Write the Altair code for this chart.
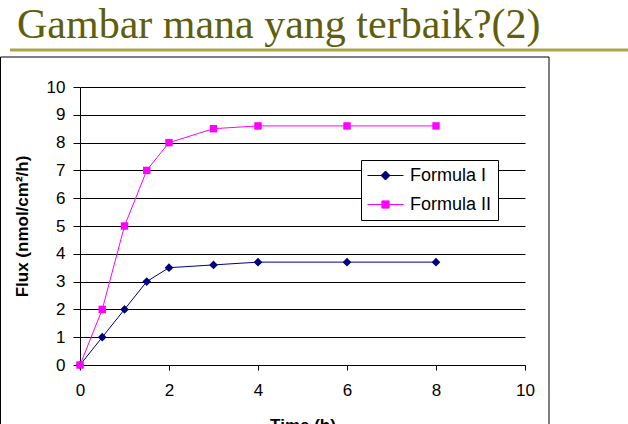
import altair as alt
import pandas as pd

# ---- data ----
time_h = [0, 0.5, 1, 1.5, 2, 3, 4, 6, 8]
formula_1 = [0, 1, 2, 3, 3.5, 3.6, 3.7, 3.7, 3.7]
formula_2 = [0, 2, 5, 7, 8, 8.5, 8.6, 8.6, 8.6]
series_names = ["Formula I", "Formula II"]
series_colors = ["#000080", "#FF00FF"]
x_ticks = [0, 2, 4, 6, 8, 10]
y_ticks = [0, 1, 2, 3, 4, 5, 6, 7, 8, 9, 10]
slide_title = "Gambar mana yang terbaik?(2)"
x_title = "Time (h)"
y_title = "Flux (nmol/cm²/h)"

df = pd.DataFrame({
    "time": time_h + time_h,
    "flux": formula_1 + formula_2,
    "series": [series_names[0]] * len(time_h) + [series_names[1]] * len(time_h),
})

W, H = 445, 278
FONT = "Liberation Sans"

color_scale = alt.Scale(domain=series_names, range=series_colors)
# legend glyphs: a horizontal line with the series marker in its middle
legend_paths = [
    "M-1,0L3,0M1,-0.5L1.5,0L1,0.5L0.5,0Z",
    "M-1,0L3,0M0.6,-0.4L1.4,-0.4L1.4,0.4L0.6,0.4Z",
]

x_enc = alt.X(
    "time:Q",
    scale=alt.Scale(domain=[0, 10], nice=False),
    axis=alt.Axis(
        values=x_ticks, grid=False, domainColor="black", tickColor="black",
        tickSize=5, labelFontSize=17, labelColor="black", labelFont=FONT,
        labelPadding=12, labelFlush=False, title=x_title, titleFontSize=17,
        titleFont=FONT, titleFontWeight="bold", titleColor="black", titlePadding=19,
    ),
)
y_enc = alt.Y(
    "flux:Q",
    scale=alt.Scale(domain=[0, 10], nice=False),
    axis=alt.Axis(
        values=y_ticks, grid=True, gridColor="black", gridOpacity=1, gridWidth=1,
        domainColor="black", tickColor="black", tickSize=7, labelFontSize=17,
        labelColor="black", labelFont=FONT, labelPadding=8, labelFlush=False,
        title=y_title, titleFontSize=17, titleFont=FONT, titleFontWeight="bold",
        titleColor="black", titlePadding=15,
    ),
)

one_row = alt.Data(values=[{"t": slide_title}])

border = alt.Chart(one_row).mark_rect(
    filled=False, stroke="black", strokeWidth=1
).encode(
    x=alt.value(-79.5), x2=alt.value(469), y=alt.value(-30), y2=alt.value(360)
)

title_rule = alt.Chart(one_row).mark_rule(
    color="#A9A64A", strokeWidth=3
).encode(
    x=alt.value(-70), x2=alt.value(548), y=alt.value(-37)
)

title_text = alt.Chart(one_row).mark_text(
    font="Liberation Serif", fontSize=42, color="#5E5E0C",
    align="left", baseline="alphabetic",
).encode(
    x=alt.value(-63), y=alt.value(-49.5), text="t:N"
)

base = alt.Chart(df).encode(x=x_enc, y=y_enc)

line_1 = base.transform_filter(alt.datum.series == series_names[0]).mark_line(
    strokeWidth=1, color=series_colors[0]
)
line_2 = base.transform_filter(alt.datum.series == series_names[1]).mark_line(
    strokeWidth=1, color=series_colors[1]
)

pts_1 = base.transform_filter(alt.datum.series == series_names[0]).mark_point(
    shape="diamond", filled=True, size=75, opacity=1, color=series_colors[0]
)
pts_2 = base.transform_filter(alt.datum.series == series_names[1]).mark_point(
    shape="square", filled=True, size=55, opacity=1, color=series_colors[1]
)

leg = alt.Legend(
    orient="none", legendX=281, legendY=73, title=None,
    strokeColor="black", fillColor="white", padding=6,
    labelFont=FONT, labelFontSize=18, labelColor="black", labelOffset=24,
    symbolSize=324, symbolStrokeWidth=1, symbolOpacity=1, rowPadding=10,
)

# invisible layer whose only job is to carry the legend
legend_layer = base.mark_point(
    filled=True, opacity=0, strokeWidth=1
).encode(
    color=alt.Color("series:N", scale=color_scale, legend=leg),
    stroke=alt.Stroke("series:N", scale=color_scale, legend=leg),
    shape=alt.Shape("series:N", scale=alt.Scale(domain=series_names, range=legend_paths), legend=leg),
)

chart = alt.layer(
    border, title_rule, title_text, line_1, line_2, pts_1, pts_2, legend_layer
).properties(
    width=W, height=H,
    autosize=alt.AutoSizeParams(type="none"),
    padding={"left": 80, "top": 87, "right": 103, "bottom": 59},
    background="white",
).configure_view(strokeWidth=0)

chart.save("out.html", embed_options={"renderer": "svg", "actions": False})
